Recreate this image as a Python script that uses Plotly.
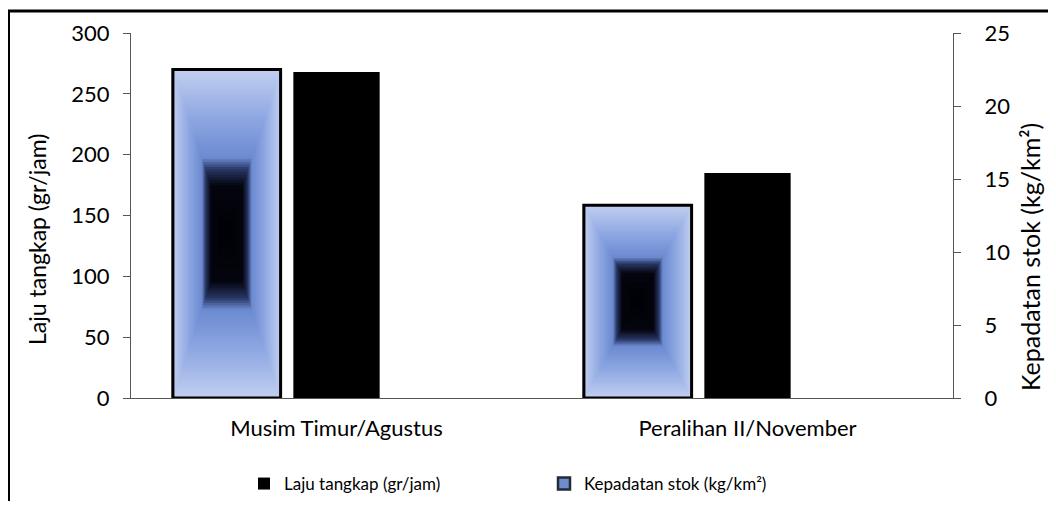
import plotly.graph_objects as go

categories = ["Musim Timur/Agustus", "Peralihan II/November"]
laju_tangkap = [268, 185]        # gr/jam, left axis
kepadatan_stok = [22.5, 13.2]    # kg/km², right axis

FONT = "Lato"
N_LAYERS = 64
KEP_WIDTH = 0.262
KEP_CENTER = -0.267
LAJU_WIDTH = 0.21

# the page body keeps its default 8px margin; size the figure so the page
# does not overflow the 1056x509 window, and place the plot box in page pixels
OFF = 8
W, H = 1056 - 2 * OFF, 509 - 2 * OFF
PL, PR, PT, PB = 131, 953, 33, 398


def px_x(x):
    return (x - PL) / (PR - PL)


def px_y(y):
    return (PB - y) / (PB - PT)


# colour stops of the rectangular "from centre" gradient (f = 0 centre, 1 edge)
STOPS = [
    (0.00, (0, 0, 5)),
    (0.30, (5, 5, 15)),
    (0.40, (40, 55, 100)),
    (0.47, (108, 138, 208)),
    (0.70, (140, 166, 225)),
    (1.00, (192, 206, 240)),
]


def gradient_color(f):
    for (f0, c0), (f1, c1) in zip(STOPS[:-1], STOPS[1:]):
        if f <= f1:
            t = (f - f0) / (f1 - f0)
            c = tuple(int(round(c0[i] + (c1[i] - c0[i]) * t)) for i in range(3))
            return "rgb(%d,%d,%d)" % c
    return "rgb(%d,%d,%d)" % STOPS[-1][1]


fig = go.Figure()

fig.add_trace(go.Bar(
    x=categories, y=laju_tangkap, name="Laju tangkap (gr/jam)",
    width=LAJU_WIDTH, offset=-LAJU_WIDTH / 2,
    marker=dict(color="black", line=dict(width=0)),
    yaxis="y",
))

for k in range(N_LAYERS):
    f = 1 - k / N_LAYERS
    w = KEP_WIDTH * f
    fig.add_trace(go.Bar(
        x=categories,
        y=[v * f for v in kepadatan_stok],
        base=[v * (1 - f) / 2 for v in kepadatan_stok],
        width=w, offset=KEP_CENTER - w / 2,
        marker=dict(color="rgb(110,140,205)" if k == 0 else gradient_color(f),
                    line=dict(width=2.5 if k == 0 else 0, color="#222a3a")),
        name="Kepadatan stok (kg/km²)",
        showlegend=(k == 0),
        yaxis="y2",
    ))
    if k == 0:
        # repaint the edge colour over the legend-swatch layer
        fig.add_trace(go.Bar(
            x=categories, y=kepadatan_stok, width=w, offset=KEP_CENTER - w / 2,
            marker=dict(color=gradient_color(1.0), line=dict(width=0)),
            showlegend=False, yaxis="y2",
        ))

fig.add_trace(go.Bar(
    x=categories, y=kepadatan_stok,
    width=KEP_WIDTH, offset=KEP_CENTER - KEP_WIDTH / 2,
    marker=dict(color="rgba(0,0,0,0)", line=dict(width=3, color="black")),
    showlegend=False, yaxis="y2",
))

fig.update_layout(
    width=W, height=H,
    barmode="overlay",
    paper_bgcolor="white", plot_bgcolor="white",
    margin=dict(l=PL - OFF, r=W - (PR - OFF), t=PT - OFF, b=H - (PB - OFF)),
    font=dict(family=FONT, color="black", size=18),
    xaxis=dict(showline=True, linecolor="#555", linewidth=1, ticks="",
               tickfont=dict(size=22), showgrid=False, automargin=False,
               ticklabelstandoff=11),
    yaxis=dict(range=[0, 300], dtick=50, showline=True, linecolor="#555",
               ticks="outside", ticklen=7, tickcolor="#555", showgrid=False,
               zeroline=False, tickfont=dict(size=22), automargin=False,
               ticklabelstandoff=9),
    yaxis2=dict(range=[0, 25], dtick=5, overlaying="y", side="right",
                showline=True, linecolor="#555", ticks="outside", ticklen=7,
                tickcolor="#555", showgrid=False, zeroline=False,
                tickfont=dict(size=22), automargin=False, ticklabelstandoff=19),
    legend=dict(orientation="h", xref="container", yref="container",
                x=(244 - OFF) / W, xanchor="left",
                y=1 - (484 - OFF) / H, yanchor="middle",
                font=dict(size=17), entrywidth=255, traceorder="normal"),
    annotations=[
        dict(text="Laju tangkap (gr/jam)", textangle=-90, showarrow=False,
             xref="paper", yref="paper", x=px_x(37), y=px_y(240),
             xanchor="center", yanchor="middle", font=dict(size=23)),
        dict(text="Kepadatan stok (kg/km²)", textangle=-90, showarrow=False,
             xref="paper", yref="paper", x=px_x(1030), y=px_y(257),
             xanchor="center", yanchor="middle", font=dict(size=25)),
    ],
    shapes=[dict(type="rect", xref="paper", yref="paper",
                 x0=px_x(8.5), x1=px_x(1075), y0=px_y(530), y1=px_y(11),
                 line=dict(color="black", width=3))],
)

fig.write_html("out.html")
